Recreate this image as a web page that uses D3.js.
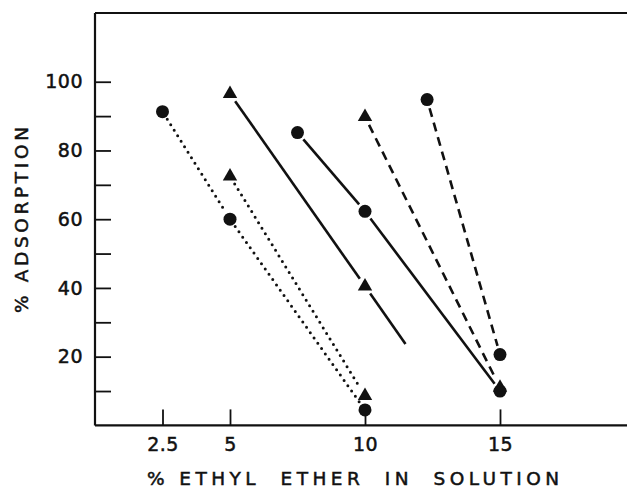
<!DOCTYPE html>
<html>
<head>
<meta charset="utf-8">
<script src="https://cdn.jsdelivr.net/npm/d3@7"></script>
<style>
  html, body { margin: 0; padding: 0; background: #fff; }
  svg { display: block; }
  text { font-family: "DejaVu Sans", "Liberation Sans", sans-serif; fill: #111; stroke: #111; stroke-width: 0.5px; }
</style>
</head>
<body>
<div id="chart"></div>
<script>
// ---- Data ----
const xTicks = [2.5, 5, 10, 15];
const yTicks = [10, 20, 30, 40, 50, 60, 70, 80, 90, 100];
const yLabelled = [20, 40, 60, 80, 100];

// dotted, circles
const dotCircleX = [2.5, 5, 10];
const dotCircleY = [91.3, 60, 4.5];
// dotted, triangles
const dotTriX = [5, 10];
const dotTriY = [72.5, 8.6];
// solid, triangles (line drawn on past the last point)
const solidTriX = [5, 10];
const solidTriY = [96.5, 40.5];
const solidTriLineEnd = [11.5, 23.7];
// solid, circles
const solidCircleX = [7.5, 10, 15];
const solidCircleY = [85.2, 62.3, 10];
// dashed, triangles
const dashTriX = [10, 15];
const dashTriY = [89.8, 11];
// dashed, circles
const dashCircleX = [12.3, 15];
const dashCircleY = [94.8, 20.6];

const xTitle = "% ETHYL  ETHER  IN  SOLUTION";
const yTitle = "% ADSORPTION";

// ---- Layout ----
const W = 627, H = 491;
const x = d3.scaleLinear().domain([0, 20]).range([95, 635]);
const y = d3.scaleLinear().domain([0, 120]).range([425.4, 13]);

const svg = d3.select("#chart").append("svg")
  .attr("width", W).attr("height", H);

// frame: top line
svg.append("line").attr("x1", x(0)).attr("x2", W).attr("y1", y(120)).attr("y2", y(120))
  .attr("stroke", "#111").attr("stroke-width", 2.2);

const yAxis = d3.axisLeft(y).tickValues(yTicks).tickSize(-16).tickPadding(12)
  .tickFormat(d => yLabelled.includes(d) ? d : "");
const gy = svg.append("g").attr("transform", `translate(${x(0)},0)`).call(yAxis);
gy.select(".domain").attr("d", `M0,${y(120)}V${y(0)}`).attr("stroke", "#111").attr("stroke-width", 2.2);
gy.selectAll(".tick line").attr("stroke", "#111").attr("stroke-width", 1.8);
gy.selectAll("text").attr("font-size", 19).attr("letter-spacing", 0.5).style("fill", "#111")
  .attr("font-family", "DejaVu Sans, sans-serif");

const xAxis = d3.axisBottom(x).tickValues(xTicks).tickSize(-16).tickPadding(12)
  .tickFormat(d => d);
const gx = svg.append("g").attr("transform", `translate(0,${y(0)})`).call(xAxis);
gx.select(".domain").attr("d", `M${x(0)},0H${W}`).attr("stroke", "#111").attr("stroke-width", 2.2);
gx.selectAll(".tick line").attr("stroke", "#111").attr("stroke-width", 1.8);
gx.selectAll("text").attr("font-size", 19).attr("letter-spacing", 0.5).style("fill", "#111")
  .attr("font-family", "DejaVu Sans, sans-serif");

// titles
svg.append("text").attr("x", 353).attr("y", 485).attr("text-anchor", "middle")
  .attr("font-size", 18.5).attr("textLength", 412).attr("lengthAdjust", "spacing")
  .style("white-space", "pre").text(xTitle);
svg.append("text").attr("transform", `translate(28,220) rotate(-90)`)
  .attr("text-anchor", "middle").attr("font-size", 18.5)
  .attr("textLength", 186).attr("lengthAdjust", "spacing").text(yTitle);

// ---- line helpers ----
const styles = {
  dotted: { dash: "0 6.5", width: 3, cap: "round" },
  solid: { dash: null, width: 2.6, cap: "butt" },
  dashed: { dash: "9 6", width: 2.6, cap: "butt" }
};
function segment(p0, p1, trim0, trim1, style) {
  const x0 = x(p0[0]), y0 = y(p0[1]), x1 = x(p1[0]), y1 = y(p1[1]);
  const dx = x1 - x0, dy = y1 - y0, L = Math.hypot(dx, dy);
  const ux = dx / L, uy = dy / L;
  const s = styles[style];
  svg.append("line")
    .attr("x1", x0 + ux * trim0).attr("y1", y0 + uy * trim0)
    .attr("x2", x1 - ux * trim1).attr("y2", y1 - uy * trim1)
    .attr("stroke", "#111").attr("stroke-width", s.width)
    .attr("stroke-linecap", s.cap)
    .attr("stroke-dasharray", s.dash);
}
function series(xs, ys, style, extra) {
  for (let i = 0; i < xs.length - 1; i++) {
    segment([xs[i], ys[i]], [xs[i + 1], ys[i + 1]], 9, 9, style);
  }
  if (extra) segment([xs[xs.length - 1], ys[ys.length - 1]], extra, 9, 0, style);
}
series(dotCircleX, dotCircleY, "dotted");
series(dotTriX, dotTriY, "dotted");
series(solidTriX, solidTriY, "solid", solidTriLineEnd);
series(solidCircleX, solidCircleY, "solid");
series(dashTriX, dashTriY, "dashed");
series(dashCircleX, dashCircleY, "dashed");

// ---- markers ----
function circles(xs, ys) {
  svg.append("g").selectAll("circle").data(xs.map((d, i) => [d, ys[i]])).join("circle")
    .attr("cx", d => x(d[0])).attr("cy", d => y(d[1])).attr("r", 6.5).attr("fill", "#111");
}
const tri = d3.symbol().type(d3.symbolTriangle).size(90);
function triangles(xs, ys) {
  svg.append("g").selectAll("path").data(xs.map((d, i) => [d, ys[i]])).join("path")
    .attr("transform", d => `translate(${x(d[0])},${y(d[1])})`)
    .attr("d", tri).attr("fill", "#111");
}
circles(dotCircleX, dotCircleY);
triangles(dotTriX, dotTriY);
triangles(solidTriX, solidTriY);
circles(solidCircleX, solidCircleY);
triangles(dashTriX, dashTriY);
circles(dashCircleX, dashCircleY);
</script>
</body>
</html>
